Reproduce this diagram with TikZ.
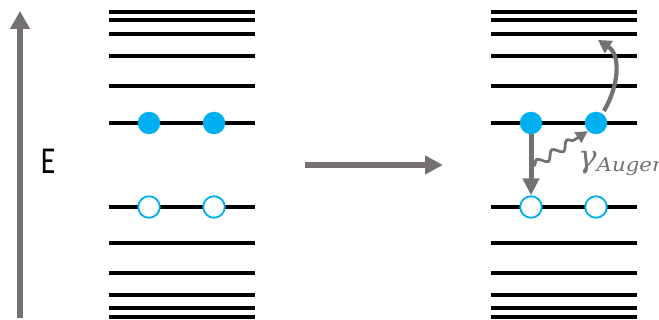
\documentclass[tikz,border=0pt]{standalone}
\usepackage{fontspec}
\usetikzlibrary{arrows.meta,decorations.pathmorphing}
\newfontfamily\efont{Carlito}
\newfontfamily\gfont{DejaVu Serif}
\definecolor{agray}{RGB}{118,113,113}
\definecolor{eblue}{RGB}{0,176,240}
\tikzset{
  level/.style={line width=4.3pt,black},
  full/.style={circle,fill=eblue,minimum size=22.5pt,inner sep=0pt},
  hole/.style={circle,draw=eblue,fill=white,line width=1.8pt,minimum size=21.5pt,inner sep=0pt}
}
\begin{document}
\begin{tikzpicture}[x=1pt,y=-1pt]
\useasboundingbox (0,0) rectangle (659,320);
% energy axis
\coordinate (ebot) at (20,318);
\coordinate (etop) at (20,11);
\draw[agray,line width=5.5pt,-{Triangle[length=18pt,width=19pt]}] (ebot) -- (etop);
\node (elabel) at (48,161) {\efont\fontsize{38}{38}\selectfont\scalebox{0.78}[1]{E}};
% levels
\foreach \y in {12,20,34,56,86,123,207,243,273,295,308,317}{
  \draw[level] (109,\y) -- (255,\y);
  \draw[level] (491,\y) -- (637,\y);
}
% left electrons
\node[full] (l1) at (149,123) {};
\node[full] (l2) at (214,123) {};
\node[hole] (l3) at (149,207) {};
\node[hole] (l4) at (214,207) {};
% right electrons
\node[full] (r1) at (531,123) {};
\node[full] (r2) at (596,123) {};
\node[hole] (r3) at (531,207) {};
\node[hole] (r4) at (596,207) {};
% middle arrow
\coordinate (ma) at (305,165);
\coordinate (mb) at (443,165);
\draw[agray,line width=6.5pt,-{Triangle[length=18pt,width=18pt]}] (ma) -- (mb);
% transition
\draw[agray,line width=5pt,-{Triangle[length=17pt,width=16pt]}] (r1.south) -- (r3.north);
% ejected electron
\coordinate (et) at (604,111);
\coordinate (ej) at (598,40);
\draw[agray,line width=4.2pt,-{Triangle[length=13pt,width=14pt]}] (et) .. controls (619,85) and (621,55) .. (ej);
% photon
\coordinate (ps) at (534,166);
\draw[agray,line width=2.8pt,decorate,decoration={snake,amplitude=4pt,segment length=18pt,post length=11pt},-{Triangle[length=12pt,width=12pt]}] (ps) -- (r2.south west);
\node[anchor=base west,agray,inner sep=0pt] (gam) at (578,168) {\gfont\itshape\fontsize{31}{31}\selectfont γ\raisebox{-4pt}{\fontsize{19}{19}\selectfont\scalebox{1.12}[1]{Auger}}};
\end{tikzpicture}
\end{document}
